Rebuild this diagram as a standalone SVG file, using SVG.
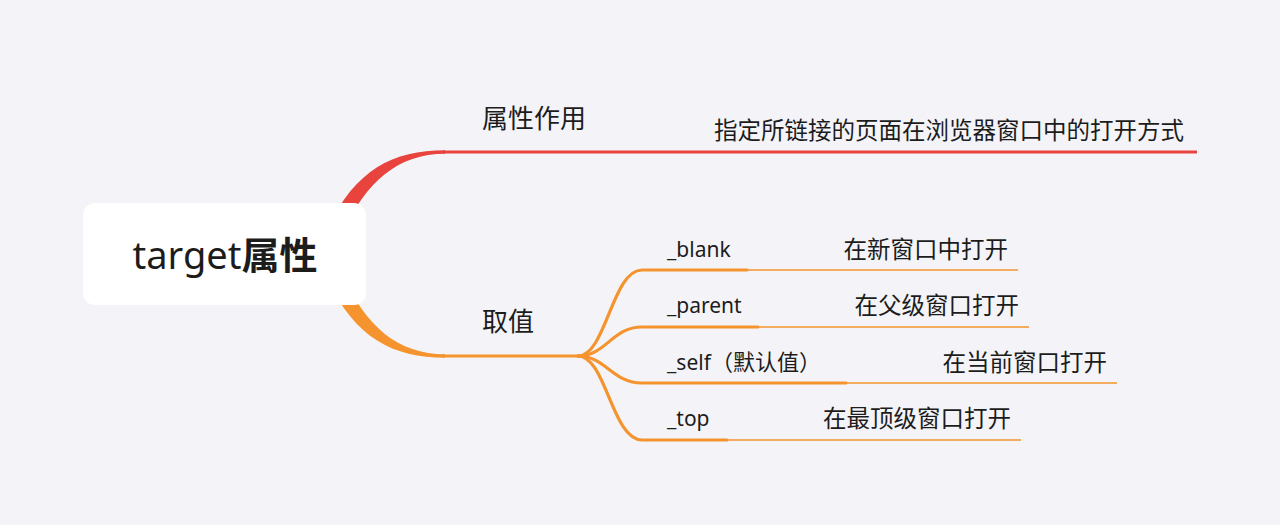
<svg xmlns="http://www.w3.org/2000/svg" width="1280" height="525" viewBox="0 0 1280 525">
<style>
.cjk{font-family:"Noto Sans CJK SC","Noto Sans",sans-serif;fill:#1c1c1c}
.lat{font-family:"Noto Sans","Noto Sans CJK SC",sans-serif;fill:#1c1c1c}
.lbl{font-size:26px}
.desc{font-size:23.5px}
.val{font-size:21px}
.red{stroke:#e8433d;fill:none}
.org{stroke:#f5942f;fill:none}
.thick{stroke-width:3.2;stroke-linecap:round}
.thin{stroke-width:1.6}
</style>
<rect width="1280" height="525" fill="#f4f4f8"/>
<g id="connectors">
  <path d="M328 228 C355 170 393 150.3 445 150.3 L445 153.7 C398 154 366 181 342 234 Z" fill="#e8433d"/>
  <line class="red" x1="443" y1="152" x2="1197" y2="152" stroke-width="3.2"/>
  <path d="M328 280 C355 338 393 357.7 445 357.7 L445 354.3 C398 354 366 327 342 274 Z" fill="#f5942f"/>
  <line class="org thick" x1="443" y1="356" x2="580" y2="356"/>
  <path class="org thick" d="M578 356 C606 356 612 270 642 270 L747 270"/>
  <line class="org thin" x1="747" y1="270" x2="1018" y2="270"/>
  <path class="org thick" d="M578 356 C606 356 612 327 642 327 L758 327"/>
  <line class="org thin" x1="758" y1="327" x2="1029" y2="327"/>
  <path class="org thick" d="M578 356 C606 356 612 383 642 383 L846 383"/>
  <line class="org thin" x1="846" y1="383" x2="1117" y2="383"/>
  <path class="org thick" d="M578 356 C606 356 612 440 642 440 L727 440"/>
  <line class="org thin" x1="727" y1="440" x2="1021" y2="440"/>
</g>
<g id="root">
  <rect x="83" y="203" width="283" height="102" rx="12" fill="#ffffff"/>
  <text x="225" y="269" text-anchor="middle" font-size="38"><tspan class="lat">target</tspan><tspan class="cjk" font-weight="bold">属性</tspan></text>
</g>
<g id="node-purpose">
  <text class="cjk lbl" x="482" y="128">属性作用</text>
  <text class="cjk desc" x="1184" y="139" text-anchor="end">指定所链接的页面在浏览器窗口中的打开方式</text>
</g>
<g id="node-values">
  <text class="cjk lbl" x="482" y="331">取值</text>
</g>
<g id="node-blank">
  <text class="lat val" x="667" y="257">_blank</text>
  <text class="cjk desc" x="1008" y="258" text-anchor="end">在新窗口中打开</text>
</g>
<g id="node-parent">
  <text class="lat val" x="667" y="313">_parent</text>
  <text class="cjk desc" x="1019" y="314" text-anchor="end">在父级窗口打开</text>
</g>
<g id="node-self">
  <text class="lat val" x="667" y="370"><tspan>_self</tspan><tspan class="cjk" font-size="22">（默认值）</tspan></text>
  <text class="cjk desc" x="1107" y="371" text-anchor="end">在当前窗口打开</text>
</g>
<g id="node-top">
  <text class="lat val" x="667" y="426">_top</text>
  <text class="cjk desc" x="1011" y="427" text-anchor="end">在最顶级窗口打开</text>
</g>
</svg>
